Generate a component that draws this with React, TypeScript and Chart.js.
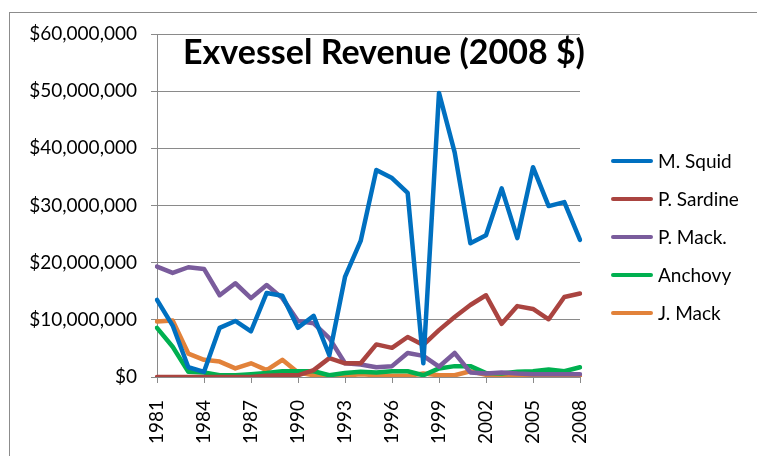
import React, { useEffect, useRef } from "react";
import { Chart, registerables } from "chart.js";

Chart.register(...registerables);

const years: string[] = [
  "1981", "1982", "1983", "1984", "1985", "1986", "1987", "1988", "1989", "1990",
  "1991", "1992", "1993", "1994", "1995", "1996", "1997", "1998", "1999", "2000",
  "2001", "2002", "2003", "2004", "2005", "2006", "2007", "2008",
];

const mSquid: number[] = [
  13500000, 9000000, 1700000, 900000, 8600000, 9800000, 8000000, 14700000, 14200000, 8600000,
  10700000, 3800000, 17500000, 23800000, 36200000, 34800000, 32200000, 2400000, 49700000, 39300000,
  23400000, 24800000, 33000000, 24300000, 36700000, 29900000, 30600000, 24000000,
];
const pSardine: number[] = [
  0, 0, 0, 0, 0, 0, 0, 200000, 300000, 300000,
  1200000, 3300000, 2400000, 2400000, 5700000, 5100000, 7000000, 5600000, 8200000, 10500000,
  12600000, 14300000, 9300000, 12400000, 11900000, 10100000, 14000000, 14600000,
];
const pMack: number[] = [
  19300000, 18200000, 19200000, 18900000, 14300000, 16400000, 13800000, 16100000, 13800000, 9800000,
  9400000, 6800000, 2400000, 2200000, 1700000, 1900000, 4200000, 3700000, 1800000, 4200000,
  800000, 600000, 800000, 600000, 500000, 500000, 500000, 500000,
];
const anchovy: number[] = [
  8600000, 5300000, 900000, 800000, 300000, 300000, 500000, 700000, 1000000, 1000000,
  1000000, 300000, 700000, 900000, 800000, 1000000, 1000000, 300000, 1500000, 1900000,
  1900000, 700000, 600000, 900000, 1000000, 1300000, 1000000, 1700000,
];
const jMack: number[] = [
  9700000, 9900000, 4100000, 3000000, 2700000, 1500000, 2400000, 1200000, 3000000, 800000,
  300000, 200000, 200000, 500000, 300000, 200000, 200000, 600000, 300000, 300000,
  1000000, 400000, 0, 300000, 300000, 0, 0, 0,
];

const seriesNames: string[] = ["M. Squid", "P. Sardine", "P. Mack.", "Anchovy", "J. Mack"];
const seriesColors: string[] = ["#0070C0", "#AA4440", "#7A5C9C", "#00B050", "#E2823A"];
const seriesValues: number[][] = [mSquid, pSardine, pMack, anchovy, jMack];

const titleText = "Exvessel Revenue (2008 $)";
const FONT = "Lato";
const GRID = "#8a8a8a";

export default function App() {
  const ref = useRef<HTMLCanvasElement | null>(null);

  useEffect(() => {
    let chart: Chart | null = null;
    let cancelled = false;

    const make = () => {
      if (cancelled || !ref.current) return;

      const overlay = {
        id: "overlay",
        beforeDraw(c: any) {
          const ctx = c.ctx;
          ctx.save();
          ctx.fillStyle = "#ffffff";
          ctx.fillRect(0, 0, c.width, c.height);
          ctx.strokeStyle = "#8c8c8c";
          ctx.lineWidth = 1;
          ctx.strokeRect(9.5, 12.5, 900, 600);
          ctx.restore();
        },
        afterDraw(c: any) {
          const ctx = c.ctx;
          ctx.save();
          ctx.fillStyle = "#000000";
          ctx.font = `bold 34px ${FONT}`;
          ctx.textAlign = "center";
          ctx.textBaseline = "alphabetic";
          ctx.fillText(titleText, 384, 64);

          ctx.font = `19px ${FONT}`;
          ctx.textAlign = "left";
          ctx.textBaseline = "middle";
          seriesNames.forEach((name, i) => {
            const y = 161 + i * 38;
            ctx.strokeStyle = seriesColors[i];
            ctx.lineWidth = 4;
            ctx.lineCap = "round";
            ctx.beginPath();
            ctx.moveTo(613, y);
            ctx.lineTo(651, y);
            ctx.stroke();
            ctx.fillStyle = "#000000";
            ctx.fillText(name, 658, y + 1);
          });
          ctx.restore();
        },
      };

      chart = new Chart(ref.current, {
        type: "line",
        data: {
          labels: years,
          datasets: seriesValues.map((vals, i) => ({
            label: seriesNames[i],
            data: vals,
            borderColor: seriesColors[i],
            backgroundColor: seriesColors[i],
            borderWidth: 4.5,
            pointRadius: 0,
            tension: 0,
            borderCapStyle: "round" as const,
            borderJoinStyle: "round" as const,
            fill: false,
          })),
        },
        options: {
          responsive: false,
          animation: false,
          events: [],
          layout: { padding: { left: 0, top: 34, right: 177, bottom: 0 } },
          plugins: {
            legend: { display: false },
            title: { display: false },
            tooltip: { enabled: false },
          },
          scales: {
            x: {
              type: "category",
              offset: false,
              afterFit: (s: any) => {
                s.height = 79;
              },
              grid: {
                drawOnChartArea: false,
                drawTicks: true,
                tickLength: 6,
                tickColor: (ctx: any) => (ctx.index % 3 === 0 ? GRID : "rgba(0,0,0,0)"),
              },
              border: { color: GRID, width: 1 },
              ticks: {
                autoSkip: false,
                maxRotation: 90,
                minRotation: 90,
                padding: 17,
                color: "#000000",
                font: { family: FONT, size: 19 },
                callback: (_v: any, i: number) => (i % 3 === 0 ? years[i] : ""),
              },
            },
            y: {
              min: 0,
              max: 60000000,
              afterFit: (s: any) => {
                s.width = 157;
              },
              grid: {
                color: GRID,
                lineWidth: 1,
                tickLength: 6,
                drawTicks: true,
              },
              border: { color: GRID, width: 1 },
              ticks: {
                stepSize: 10000000,
                padding: 14,
                color: "#000000",
                font: { family: FONT, size: 19 },
                callback: (v: any) => "$" + Number(v).toLocaleString("en-US"),
              },
            },
          },
        },
        plugins: [overlay],
      });
    };

    const fontsApi: any = (document as any).fonts;
    if (fontsApi && fontsApi.load) {
      Promise.all([
        fontsApi.load(`19px ${FONT}`),
        fontsApi.load(`bold 34px ${FONT}`),
      ])
        .catch(() => null)
        .then(make);
    } else {
      make();
    }

    return () => {
      cancelled = true;
      if (chart) chart.destroy();
    };
  }, []);

  return (
    <div style={{ position: "absolute", left: 0, top: 0, width: 757, height: 456 }}>
      <canvas ref={ref} width={757} height={456} style={{ width: 757, height: 456 }} />
    </div>
  );
}
